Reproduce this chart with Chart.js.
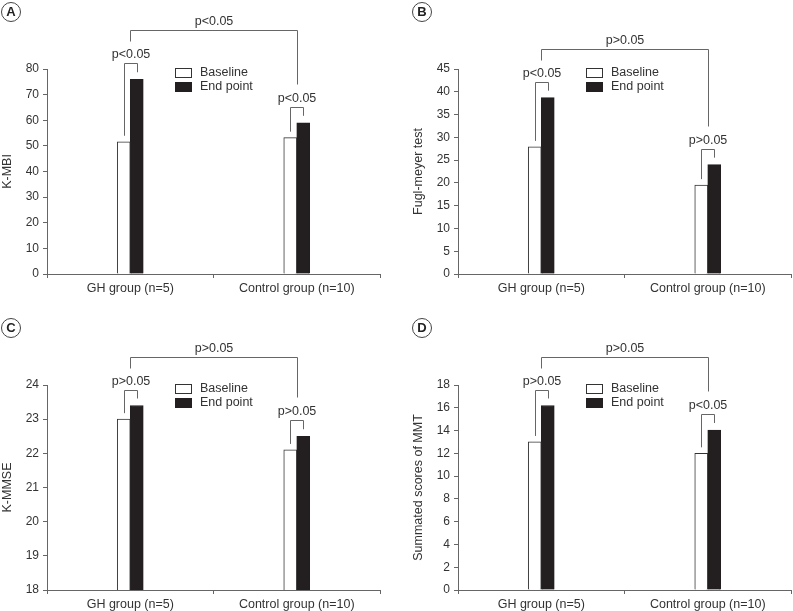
<!DOCTYPE html>
<html>
<head>
<meta charset="utf-8">
<script src="https://cdn.jsdelivr.net/npm/chart.js@4/dist/chart.umd.min.js"></script>
<style>
  body { margin: 0; background: #fff; }
  .panel { position: absolute; width: 382px; height: 295px; }
</style>
</head>
<body>
<div class="panel" style="left:0px;top:0px"><canvas id="chartA" width="382" height="295"></canvas></div>
<div class="panel" style="left:411px;top:0px"><canvas id="chartB" width="382" height="295"></canvas></div>
<div class="panel" style="left:0px;top:316px"><canvas id="chartC" width="382" height="295"></canvas></div>
<div class="panel" style="left:411px;top:316px"><canvas id="chartD" width="382" height="295"></canvas></div>
<script>
// categories et séries
const categories = ['GH group (n=5)', 'Control group (n=10)'];
const seriesNames = ['Baseline', 'End point'];

const kmbiBaseline = [51.6, 53.2];
const kmbiEnd = [76.0, 59.0];
const fuglBaseline = [27.9, 19.5];
const fuglEnd = [38.7, 24.0];
const kmmseBaseline = [23.0, 22.1];
const kmmseEnd = [23.4, 22.5];
const mmtBaseline = [13.0, 12.0];
const mmtEnd = [16.2, 14.05];

// p-values (intra groupe puis inter groupe)
const pWithinA = ['p<0.05', 'p<0.05'];
const pBetweenA = 'p<0.05';
const pWithinB = ['p<0.05', 'p>0.05'];
const pBetweenB = 'p>0.05';
const pWithinC = ['p>0.05', 'p>0.05'];
const pBetweenC = 'p>0.05';
const pWithinD = ['p>0.05', 'p<0.05'];
const pBetweenD = 'p>0.05';

const FONT = '"Liberation Sans", Arial, Helvetica, sans-serif';
const TEXT = '#333';
const LINE = '#666';

// dessin des crochets, de la légende et de la lettre du panneau
const annotPlugin = {
  id: 'annot',
  afterDatasetsDraw(chart, args, opts) {
    const ctx = chart.ctx;
    const area = chart.chartArea;
    const base = chart.getDatasetMeta(0).data;
    const end = chart.getDatasetMeta(1).data;
    ctx.save();
    ctx.strokeStyle = LINE;
    ctx.lineWidth = 1;
    ctx.font = '12.5px ' + FONT;
    ctx.fillStyle = TEXT;
    ctx.textAlign = 'center';
    ctx.textBaseline = 'middle';

    function seg(pts) {
      ctx.beginPath();
      ctx.moveTo(pts[0][0], pts[0][1]);
      for (let k = 1; k < pts.length; k++) ctx.lineTo(pts[k][0], pts[k][1]);
      ctx.stroke();
    }

    const labelY = [];
    base.forEach(function(b, i) {
      const e = end[i];
      const x1 = Math.round(b.x) + 0.5;
      const x2 = Math.round(e.x) + 0.5;
      const top = Math.round(Math.min(b.y, e.y) - 16) + 0.5;
      seg([[x1, b.y - 6], [x1, top], [x2, top], [x2, e.y - 7]]);
      ctx.fillText(opts.within[i], (x1 + x2) / 2, top - 9);
      labelY.push(top - 9);
    });

    // crochet entre les groupes
    const xs = chart.scales.x;
    const c0 = Math.round(xs.getPixelForValue(0)) + 0.5;
    const c1 = Math.round(xs.getPixelForValue(1)) + 0.5;
    const topB = Math.round(labelY[0] - 25) + 0.5;
    seg([[c0, topB + 11], [c0, topB], [c1, topB], [c1, labelY[1] - 14]]);
    ctx.fillText(opts.between, (c0 + c1) / 2, topB - 9);

    // légende
    const lx = area.left + 128;
    chart.data.datasets.forEach(function(ds, i) {
      const by = area.top - 1 + i * 14;
      ctx.fillStyle = ds.backgroundColor;
      ctx.fillRect(lx, by, 16, 9);
      ctx.strokeStyle = ds.borderColor;
      ctx.strokeRect(lx + 0.5, by + 0.5, 16, 9);
      ctx.fillStyle = TEXT;
      ctx.textAlign = 'left';
      ctx.fillText(ds.label, lx + 25, by + 5);
    });

    // lettre du panneau
    ctx.beginPath();
    ctx.arc(11, 12, 9.5, 0, Math.PI * 2);
    ctx.strokeStyle = '#444';
    ctx.stroke();
    ctx.font = 'bold 13px ' + FONT;
    ctx.fillStyle = '#222';
    ctx.textAlign = 'center';
    ctx.fillText(opts.letter, 11, 12.5);
    ctx.restore();
  }
};

function makeChart(id, letter, title, baseline, endpoint, min, max, step, within, between) {
  const ctx = document.getElementById(id).getContext('2d');
  return new Chart(ctx, {
    type: 'bar',
    data: {
      labels: categories,
      datasets: [{
        label: seriesNames[0],
        data: baseline,
        backgroundColor: '#ffffff',
        borderColor: '#333',
        borderWidth: 1,
        barThickness: 13
      }, {
        label: seriesNames[1],
        data: endpoint,
        backgroundColor: '#231f20',
        borderColor: '#231f20',
        borderWidth: 1,
        barThickness: 13
      }]
    },
    options: {
      responsive: false,
      animation: false,
      layout: { padding: { top: 69, right: 2, left: 0, bottom: 0 } },
      plugins: {
        legend: { display: false },
        tooltip: { enabled: false },
        annot: { letter: letter, within: within, between: between }
      },
      scales: {
        x: {
          offset: true,
          grid: { display: true, drawOnChartArea: false, drawTicks: true, tickLength: 4, offset: true, color: LINE },
          border: { display: true, color: LINE },
          ticks: { color: TEXT, font: { family: FONT, size: 12.5 }, padding: 3, maxRotation: 0 },
          afterFit: function(s) { s.height = 21; }
        },
        y: {
          min: min,
          max: max,
          grid: { display: true, drawOnChartArea: false, drawTicks: true, tickLength: 4, color: LINE },
          border: { display: true, color: LINE },
          ticks: { stepSize: step, color: TEXT, font: { family: FONT, size: 12 }, padding: 4 },
          title: { display: true, text: title, color: TEXT, font: { family: FONT, size: 12.5 }, padding: { top: 0, bottom: 0 } },
          afterFit: function(s) { s.width = 47; }
        }
      }
    },
    plugins: [annotPlugin]
  });
}

makeChart('chartA', 'A', 'K-MBI', kmbiBaseline, kmbiEnd, 0, 80, 10, pWithinA, pBetweenA);
makeChart('chartB', 'B', 'Fugl-meyer test', fuglBaseline, fuglEnd, 0, 45, 5, pWithinB, pBetweenB);
makeChart('chartC', 'C', 'K-MMSE', kmmseBaseline, kmmseEnd, 18, 24, 1, pWithinC, pBetweenC);
makeChart('chartD', 'D', 'Summated scores of MMT', mmtBaseline, mmtEnd, 0, 18, 2, pWithinD, pBetweenD);
</script>
</body>
</html>
